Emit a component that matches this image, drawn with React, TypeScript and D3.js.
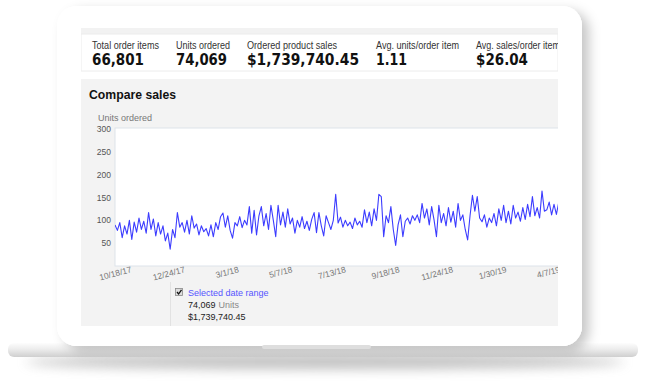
import React from "react";
import * as d3 from "d3";

const metricLabels = ["Total order items", "Units ordered", "Ordered product sales", "Avg. units/order item", "Avg. sales/order item"];
const metricValues = ["66,801", "74,069", "$1,739,740.45", "1.11", "$26.04"];
const yTicks = [50, 100, 150, 200, 250, 300];
const xTickLabels = ["10/18/17", "12/24/17", "3/1/18", "5/7/18", "7/13/18", "9/18/18", "11/24/18", "1/30/19", "4/7/19"];
const seriesStart = "10/1/17";
const domainEnd = "4/8/19";
const stepDays = 3;
const units = [
  90, 78, 95, 62, 88, 70, 100, 58, 96, 74, 105, 80, 98, 72, 117, 80, 103, 66, 95, 70,
  88, 55, 72, 37, 80, 62, 117, 85, 95, 74, 100, 70, 110, 83, 92, 68, 88, 75, 82, 66,
  90, 64, 95, 80, 108, 116, 85, 110, 78, 61, 95, 88, 108, 84, 100, 90, 130, 72, 122, 68,
  110, 130, 88, 115, 80, 133, 100, 64, 133, 90, 118, 85, 125, 92, 105, 72, 100, 85, 108, 82,
  98, 78, 102, 117, 73, 117, 88, 66, 110, 95, 80, 100, 157, 94, 107, 85, 100, 88, 96, 82,
  105, 90, 98, 85, 123, 95, 118, 88, 125, 100, 157, 152, 64, 110, 95, 130, 80, 45, 90, 112,
  64, 98, 105, 92, 110, 100, 112, 95, 137, 105, 125, 90, 130, 101, 64, 133, 95, 115, 88, 128,
  96, 120, 85, 137, 100, 112, 80, 57, 110, 155, 120, 152, 105, 97, 112, 85, 105, 95, 115, 88,
  125, 100, 133, 95, 120, 92, 133, 105, 118, 98, 128, 102, 135, 108, 152, 110, 128, 105, 164, 120,
  123, 140, 112, 135, 113, 140,
];
const legendLabel = "Selected date range";
const legendUnits = "74,069";
const legendUnitsWord = "Units";
const legendSales = "$1,739,740.45";
const chartTitle = "Compare sales";
const axisTitle = "Units ordered";

const SANS = "'Liberation Sans', Arial, sans-serif";
const BOLD = "'DejaVu Sans', Verdana, sans-serif";

export default function App() {
  const parse = d3.timeParse("%m/%d/%y");
  const fmt = d3.timeFormat("%-m/%-d/%y");
  const start = parse(seriesStart)!;
  const plot = { x0: 115, x1: 558, y0: 129, y1: 266 };
  const x = d3.scaleTime().domain([start, parse(domainEnd)!]).range([plot.x0, plot.x1]);
  const y = d3.scaleLinear().domain([0, 300]).range([plot.y1, plot.y0]);
  const pts = units.map((v, i) => ({ d: d3.timeDay.offset(start, i * stepDays), v }));
  const path = d3.line<{ d: Date; v: number }>().x((p) => x(p.d)).y((p) => y(p.v))(pts) || "";
  const tickDates = xTickLabels.map((t) => parse(t)!);

  const metricX = [92, 176, 247, 376, 476];
  const labelW = [67, 54, 90, 83, 84];
  const valueW = [52, 51, 112, 31, 52];

  return (
    <svg width={649} height={381} style={{ position: "fixed", left: 0, top: 0, background: "#fff" }}>
      <defs>
        <filter id="sh" x="-10%" y="-10%" width="125%" height="125%">
          <feDropShadow dx="7" dy="5" stdDeviation="6" floodColor="#000" floodOpacity="0.22" />
        </filter>
        <filter id="blur" x="-20%" y="-200%" width="140%" height="500%">
          <feGaussianBlur stdDeviation="6" />
        </filter>
        <linearGradient id="base" x1="0" y1="0" x2="0" y2="1">
          <stop offset="0" stopColor="#fdfdfd" />
          <stop offset="0.45" stopColor="#ececec" />
          <stop offset="1" stopColor="#cfcfcf" />
        </linearGradient>
        <clipPath id="content">
          <rect x={81} y={28} width={477} height={298} />
        </clipPath>
        <clipPath id="plotclip">
          <rect x={plot.x0} y={plot.y0 - 2} width={plot.x1 - plot.x0} height={plot.y1 - plot.y0 + 4} />
        </clipPath>
      </defs>

      {/* laptop base shadow */}
      <ellipse cx={325} cy={362} rx={300} ry={7} fill="#8a8a8a" opacity={0.55} filter="url(#blur)" />
      {/* base */}
      <rect x={8} y={343} width={630} height={14} rx={6} fill="url(#base)" />
      {/* screen body */}
      <rect x={57} y={6} width={525} height={340} rx={20} fill="#fff" filter="url(#sh)" />
      <rect x={57} y={6} width={525} height={340} rx={20} fill="#fff" />
      {/* notch */}
      <rect x={262} y={345} width={109} height={4} rx={2} fill="#dedede" />

      <g clipPath="url(#content)">
        {/* top band */}
        <rect x={81} y={28} width={477} height={6} fill="#f2f2f2" />
        {/* metrics panel */}
        <rect x={81} y={34} width={477} height={37} fill="#fff" stroke="#ececec" strokeWidth={1} />
        {metricLabels.map((l, i) => (
          <text key={l} x={metricX[i]} y={48.5} fontFamily={SANS} fontSize={10} fill="#333"
            textLength={labelW[i]} lengthAdjust="spacingAndGlyphs">{l}</text>
        ))}
        {metricValues.map((v, i) => (
          <text key={v} x={metricX[i]} y={65} fontFamily={BOLD} fontWeight="bold" fontSize={16} fill="#111"
            textLength={valueW[i]} lengthAdjust="spacingAndGlyphs">{v}</text>
        ))}

        {/* compare panel */}
        <rect x={81} y={79} width={477} height={247} fill="#f3f3f3" />
        <text x={89} y={99} fontFamily={SANS} fontWeight="bold" fontSize={13} fill="#111"
          textLength={87} lengthAdjust="spacingAndGlyphs">{chartTitle}</text>
        <text x={98} y={121} fontFamily={SANS} fontSize={9} fill="#777">{axisTitle}</text>

        {/* plot */}
        <rect x={plot.x0} y={plot.y0 - 1} width={plot.x1 - plot.x0 + 2} height={plot.y1 - plot.y0 + 1} fill="#fff" stroke="#dde3ea" strokeWidth={1} />
        {yTicks.map((t) => (
          <text key={t} x={111} y={y(t) + 3} textAnchor="end" fontFamily={SANS} fontSize={8.5} fill="#555">{t}</text>
        ))}
        <path d={path} fill="none" stroke="#3c3cff" strokeWidth={1.1} strokeLinejoin="round" clipPath="url(#plotclip)" />
        {tickDates.map((d, i) => {
          const tx = x(d) + 3.5;
          const ty = 272;
          return (
            <text key={i} x={tx} y={ty} textAnchor="end" fontFamily={SANS} fontSize={8.5} fill="#777"
              transform={`rotate(-15,${tx},${ty})`}>{fmt(d)}</text>
          );
        })}

        {/* legend */}
        <line x1={170.5} y1={282} x2={170.5} y2={326} stroke="#e2e2e2" />
        <rect x={175.5} y={288.5} width={7} height={7} fill="#ddd" stroke="#888" strokeWidth={0.8} />
        <path d="M177 292 L178.6 294 L181.5 289.8" fill="none" stroke="#111" strokeWidth={1.3} />
        <text x={188} y={296} fontFamily={SANS} fontSize={9} fill="#5555ff">{legendLabel}</text>
        <text x={188} y={308} fontFamily={SANS} fontSize={9} fill="#222">
          {legendUnits}
          <tspan fill="#888" dx={3}>{legendUnitsWord}</tspan>
        </text>
        <text x={188} y={320} fontFamily={SANS} fontSize={9} fill="#222">{legendSales}</text>
      </g>
    </svg>
  );
}
